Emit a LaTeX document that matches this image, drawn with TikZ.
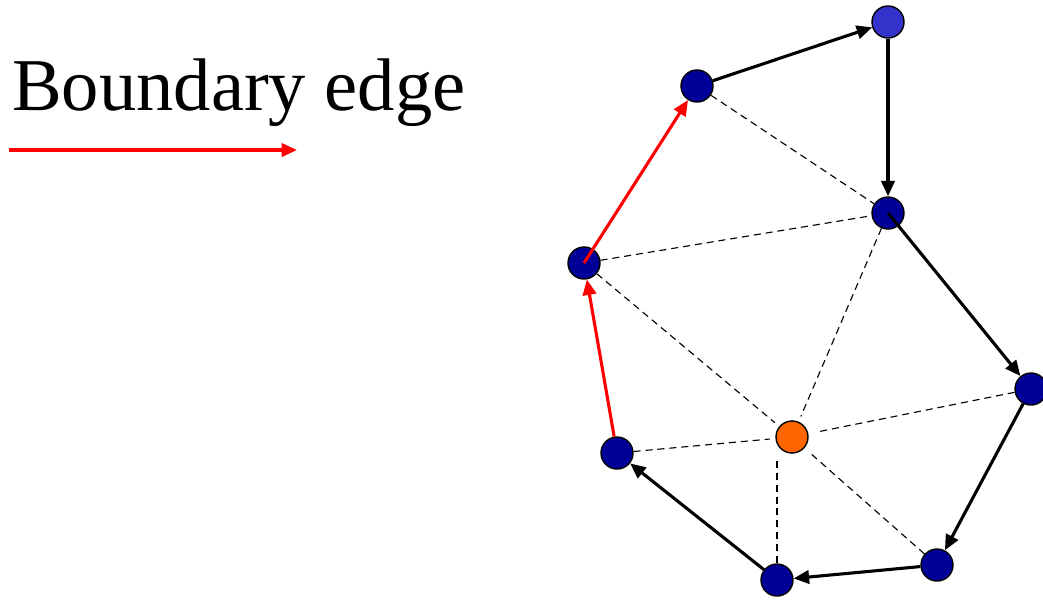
\documentclass[tikz,border=0pt]{standalone}
\usepackage{fontspec}
\setmainfont{Liberation Serif}
\usepackage{tikz}
\usetikzlibrary{arrows.meta}

\definecolor{vblue}{RGB}{0,0,153}
\definecolor{vlight}{RGB}{51,51,204}
\definecolor{vorange}{RGB}{255,102,0}

\begin{document}
\begin{tikzpicture}[x=0.025cm, y=-0.025cm,
    vert/.style = {draw, circle, line width=1pt, fill=vblue, minimum size=0.8cm, inner sep=0pt},
    bnd/.style = {line width=2.2pt, -{Triangle[length=11pt, width=9.5pt]}},
    diag/.style = {line width=0.8pt, dash pattern=on 5pt off 3.5pt}]
    \useasboundingbox (0,0) rectangle (1043,600);
    % legende
    \node[anchor=base west, inner sep=0pt, font=\fontsize{53}{62}\selectfont] (lbl) at (12,110) {Boundary edge};
    \coordinate (la) at (9,150);
    \coordinate (lb) at (297,150);
    \draw[bnd, red] (la) -- (lb);

    % knoten
    \node[vert, fill=vlight] (t) at (888,22) {};
    \node[vert] (a) at (697,86) {};
    \node[vert] (b) at (888,213) {};
    \node[vert] (c) at (584,263) {};
    \node[vert] (d) at (1031,389) {};
    \node[vert, fill=vorange] (o) at (792,437) {};
    \node[vert] (e) at (617,453) {};
    \node[vert] (f) at (937,565) {};
    \node[vert] (g) at (777,580) {};

    % innere kanten
    \draw[diag] (a) -- (b);
    \draw[diag] (c) -- (b);
    \draw[diag, shorten >=4pt] (c) -- (o);
    \draw[diag, shorten >=4pt] (b) -- (o);
    \draw[diag, shorten >=8pt] (d) -- (o);
    \draw[diag, shorten >=4pt] (e) -- (o);
    \draw[diag, shorten >=4pt] (f) -- (o);
    \draw[diag, shorten >=3pt] (g) -- (g |- o.south);

    % randkanten
    \draw[bnd] (a) -- (t);
    \draw[bnd] (t) -- (b);
    \draw[bnd] (b.center) -- (d);
    \draw[bnd] (d) -- (f);
    \draw[bnd] (f) -- (g);
    \draw[bnd] (g) -- (e);
    \draw[bnd, red] (e) -- (c);
    \draw[bnd, red] (c.center) -- (a);
\end{tikzpicture}
\end{document}
